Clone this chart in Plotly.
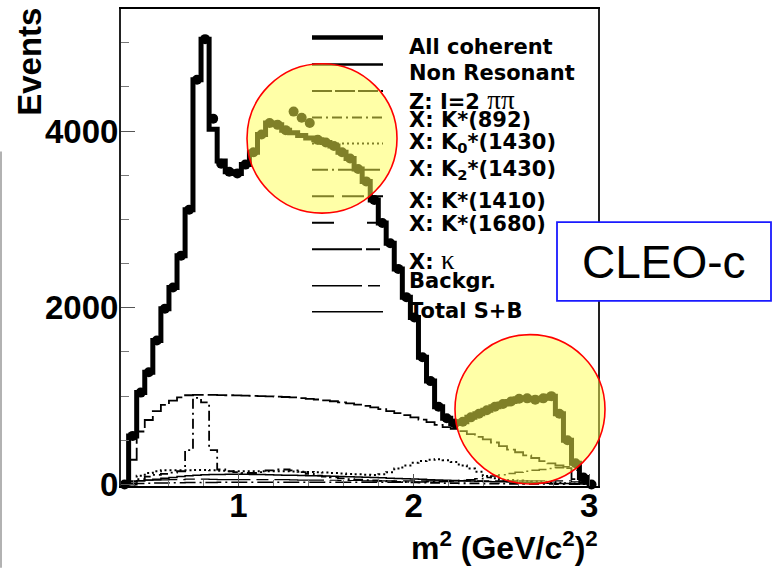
import plotly.graph_objects as go

# ---------------- data ----------------
bin_centers = [0.397, 0.443, 0.489, 0.535, 0.581, 0.627, 0.673, 0.719, 0.764, 0.810,
               0.856, 0.902, 0.948, 0.994, 1.040, 1.086, 1.132, 1.178, 1.224, 1.270,
               1.315, 1.361, 1.407, 1.453, 1.499, 1.545, 1.591, 1.637, 1.683, 1.729,
               1.775, 1.821, 1.866, 1.912, 1.958, 2.004, 2.050, 2.096, 2.142, 2.188,
               2.234, 2.280, 2.326, 2.372, 2.417, 2.463, 2.509, 2.555, 2.601, 2.647,
               2.693, 2.739, 2.785, 2.831, 2.877, 2.923, 2.968]

total_fit = [550, 1040, 1270, 1630, 1990, 2230, 2590, 3110, 4580, 5040,
             4020, 3660, 3540, 3520, 3620, 3760, 3960, 4090, 4070, 4010,
             3980, 3950, 3920, 3900, 3870, 3830, 3760, 3690, 3570, 3430,
             3220, 2960, 2730, 2440, 2120, 1890, 1440, 1170, 880, 750,
             690, 710, 760, 800, 840, 880, 910, 940, 970, 975,
             960, 975, 1000, 800, 500, 240, 80]

data_x = [0.351, 0.397, 0.443, 0.489, 0.535, 0.581, 0.627, 0.673, 0.719, 0.764, 0.810,
          0.856, 0.902, 0.948, 0.994, 1.040, 1.086, 1.132, 1.178, 1.224, 1.270,
          1.315, 1.361, 1.407, 1.453, 1.499, 1.545, 1.591, 1.637, 1.683, 1.729,
          1.775, 1.821, 1.866, 1.912, 1.958, 2.004, 2.050, 2.096, 2.142, 2.188,
          2.234, 2.280, 2.326, 2.372, 2.417, 2.463, 2.509, 2.555, 2.601, 2.647,
          2.693, 2.739, 2.785, 2.831, 2.877, 2.923, 2.968, 3.014]
data_y = [0, 550, 1040, 1270, 1630, 1990, 2230, 2590, 3110, 4580, 5040,
          4140, 3630, 3540, 3520, 3620, 3760, 3960, 4090, 4070, 4010,
          4220, 4150, 4090, 3900, 3870, 3830, 3760, 3690, 3570, 3430,
          3220, 2960, 2730, 2440, 2120, 1890, 1440, 1170, 880, 750,
          690, 710, 760, 800, 840, 880, 910, 940, 970, 975,
          960, 975, 1000, 800, 500, 240, 80, 0]

non_resonant = [280, 600, 730, 830, 900, 950, 985, 1010, 1015, 1015,
                1015, 1012, 1010, 1008, 1005, 1003, 1000, 998, 995, 990,
                985, 978, 970, 962, 953, 942, 930, 918, 905, 890,
                872, 852, 830, 808, 785, 760, 735, 705, 675, 650,
                630, 605, 570, 540, 510, 475, 435, 395, 365, 330,
                300, 265, 240, 215, 185, 60, 20]

kstar892 = [0, 60, 90, 110, 120, 135, 150, 390, 980, 930,
            390, 170, 150, 140, 130, 130, 140, 160, 170, 170,
            160, 140, 120, 100, 90, 80, 70, 60, 55, 50,
            45, 40, 35, 30, 28, 25, 22, 20, 18, 16,
            15, 14, 13, 12, 11, 10, 9, 8, 8, 7,
            7, 6, 6, 5, 5, 4, 4]

k0_1430 = [0, 100, 130, 150, 160, 160, 160, 160, 165, 165,
           160, 155, 150, 150, 150, 150, 150, 150, 150, 150,
           148, 145, 142, 140, 135, 130, 125, 120, 115, 110,
           107, 115, 140, 180, 215, 245, 265, 280, 287, 275,
           255, 215, 180, 145, 95, 70, 55, 50, 45, 40,
           35, 30, 25, 20, 15, 10, 5]

smooth_low = [30, 40, 50, 60, 70, 80, 90, 98, 105, 109,
              112, 114, 115, 115, 115, 114, 112, 110, 108, 106,
              104, 102, 100, 98, 95, 92, 90, 88, 85, 82,
              80, 76, 72, 68, 65, 62, 58, 54, 50, 48,
              45, 42, 40, 38, 35, 32, 30, 28, 25, 22,
              20, 18, 15, 12, 10, 8, 5]

rising_end = [10, 12, 14, 16, 18, 20, 20, 22, 22, 24,
              24, 25, 25, 25, 25, 25, 25, 25, 25, 25,
              25, 25, 25, 25, 25, 25, 25, 25, 25, 25,
              25, 25, 25, 26, 27, 28, 29, 30, 32, 35,
              40, 45, 55, 65, 80, 95, 110, 125, 140, 150,
              160, 170, 180, 190, 200, 160, 40]

backgr = [40, 45, 48, 50, 52, 55, 55, 60, 60, 60,
          58, 55, 55, 55, 55, 55, 55, 55, 55, 55,
          52, 50, 50, 50, 50, 48, 45, 45, 45, 42,
          40, 40, 40, 40, 40, 40, 40, 40, 40, 40,
          40, 40, 40, 40, 40, 40, 40, 40, 40, 40,
          40, 40, 40, 40, 40, 30, 20]

x_ticks = [1, 2, 3]
y_ticks = [0, 2000, 4000]

SERIF = "<span style='font-family:Liberation Serif;font-weight:normal;font-size:27px'>{}</span>"
legend_labels = [
    "All coherent",
    "Non Resonant",
    "Z: I=2 " + SERIF.format("\u03c0\u03c0"),
    "X: K*(892)",
    "X: K<sub>0</sub>*(1430)",
    "X: K<sub>2</sub>*(1430)",
    "X: K*(1410)",
    "X: K*(1680)",
    "X: " + SERIF.format("\u03ba"),
    "Backgr.",
    "Total S+B",
]
legend_dashes = ["solid", "solid", "20px,3px", "10px,4px,2px,4px", "2px,3px",
                 "16px,4px,2px,4px", "22px,8px", "22px,33px", "50px,4px,14px,4px",
                 "50px,6px,12px,6px", "solid"]
legend_widths = [4.5, 2.5, 2, 2, 2, 2, 2, 2, 2, 1.5, 1.5]

# ---------------- layout geometry ----------------
W, H = 772, 568
L, R, T, B = 121, 598, 7, 486


def pxx(x):
    return (x - L) / (R - L)


def pxy(y):
    return (B - y) / (B - T)


half = (bin_centers[1] - bin_centers[0]) / 2
edges = [c - half for c in bin_centers] + [bin_centers[-1] + half]


def step(vals, close=False):
    xs = list(edges)
    ys = list(vals) + [vals[-1]]
    if close:
        xs = [edges[0]] + xs + [edges[-1]]
        ys = [0] + ys + [0]
    return xs, ys


fig = go.Figure()


def add_step(vals, width, dash, close=False):
    xs, ys = step(vals, close)
    fig.add_trace(go.Scatter(x=xs, y=ys, mode="lines", line_shape="hv",
                             line=dict(color="black", width=width, dash=dash),
                             showlegend=False, hoverinfo="skip", cliponaxis=True))


add_step(backgr, 1.2, "50px,6px,12px,6px")
add_step(smooth_low, 1.5, "solid")
add_step(rising_end, 1.5, "16px,4px,2px,4px")
add_step(k0_1430, 2, "2px,3px")
add_step(kstar892, 1.8, "10px,4px,2px,4px")
add_step(non_resonant, 1.8, "20px,4px")
add_step(total_fit, 5, "solid", close=True)

fig.add_trace(go.Scatter(x=data_x, y=data_y, mode="markers",
                         marker=dict(color="black", size=10, symbol="circle"),
                         showlegend=False, hoverinfo="skip", cliponaxis=False))

shapes = []
annotations = []

# legend (line samples + labels)
sample_y = [35.7, 62.7, 89.3, 116, 142, 168.3, 195, 221.7, 248.3, 285, 311]
label_y = [45, 71.7, 98.3, 118.3, 142, 169, 200, 223, 259, 280, 310]
for lab, dsh, wd, sy, ly in zip(legend_labels, legend_dashes, legend_widths, sample_y, label_y):
    shapes.append(dict(type="line", xref="paper", yref="paper",
                       x0=pxx(312), x1=pxx(383), y0=pxy(sy), y1=pxy(sy),
                       line=dict(color="black", width=wd, dash=dsh), layer="above"))
    annotations.append(dict(xref="paper", yref="paper", x=pxx(407), y=pxy(ly),
                            xanchor="left", yanchor="middle", showarrow=False,
                            text=lab,
                            font=dict(family="DejaVu Sans", size=21, color="black", weight="bold")))

# highlight circles
for cx, cy in [(322, 137), (530, 409)]:
    shapes.append(dict(type="circle", xref="paper", yref="paper",
                       x0=pxx(cx - 75), x1=pxx(cx + 75), y0=pxy(cy + 75), y1=pxy(cy - 75),
                       fillcolor="rgba(255,255,80,0.5)",
                       line=dict(color="red", width=1.6), layer="above"))

# CLEO-c box
shapes.append(dict(type="rect", xref="paper", yref="paper",
                   x0=pxx(557), x1=pxx(771), y0=pxy(300), y1=pxy(221),
                   fillcolor="white", line=dict(color="#1a1aff", width=1.8), layer="above"))
annotations.append(dict(xref="paper", yref="paper", x=pxx(664), y=pxy(261),
                        xanchor="center", yanchor="middle", showarrow=False,
                        text="CLEO-c",
                        font=dict(family="Liberation Sans", size=46, color="black")))

# stray gray edge line at far left
shapes.append(dict(type="line", xref="paper", yref="paper",
                   x0=pxx(1), x1=pxx(1), y0=pxy(150), y1=pxy(568),
                   line=dict(color="#999999", width=1.5), layer="above"))

# axis titles
annotations.append(dict(xref="paper", yref="paper", x=pxx(30), y=pxy(60),
                        xanchor="center", yanchor="middle", showarrow=False,
                        textangle=-90, text="Events",
                        font=dict(family="Liberation Sans", size=33, color="black", weight="bold")))
annotations.append(dict(xref="paper", yref="paper", x=pxx(600), y=pxy(546),
                        xanchor="right", yanchor="middle", showarrow=False,
                        text="m<sup>2</sup> (GeV/c<sup>2</sup>)<sup>2</sup>",
                        font=dict(family="Liberation Sans", size=32, color="black", weight="bold")))

tickfont = dict(family="Liberation Sans", size=33, color="black", weight="bold")

fig.update_layout(
    width=W, height=H,
    margin=dict(l=L, r=W - R, t=T, b=H - B, pad=0),
    paper_bgcolor="white", plot_bgcolor="white",
    shapes=shapes, annotations=annotations,
    xaxis=dict(range=[0.3305, 3.051], tickvals=x_ticks, ticktext=[str(v) for v in x_ticks],
               ticks="inside", ticklen=12, tickwidth=1, tickcolor="#555555",
               minor=dict(dtick=0.2, tick0=0, ticks="inside", ticklen=6, tickcolor="#777777"),
               showline=True, mirror=True, linecolor="black", linewidth=2,
               showgrid=False, zeroline=False, tickfont=tickfont, ticklabelstandoff=-11),
    yaxis=dict(range=[-17, 5381], tickvals=y_ticks, ticktext=[str(v) for v in y_ticks],
               ticks="inside", ticklen=14, tickwidth=1, tickcolor="#555555",
               minor=dict(dtick=500, tick0=0, ticks="inside", ticklen=8, tickcolor="#777777"),
               showline=True, mirror=True, linecolor="#222222", linewidth=2,
               showgrid=False, zeroline=False, tickfont=tickfont, ticklabelstandoff=-6),
)

fig.write_html("out.html")
